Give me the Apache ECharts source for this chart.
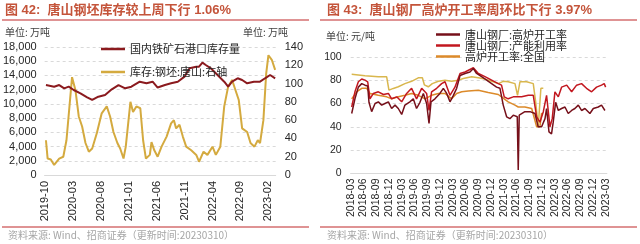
<!DOCTYPE html>
<html><head><meta charset="utf-8">
<script src="https://cdn.jsdelivr.net/npm/echarts@6/dist/echarts.min.js"></script>
<style>html,body{margin:0;padding:0;background:#fff}#c{width:640px;height:244px}</style>
</head><body><div id="c"></div>
<script>
// ---------- Left chart (图42) ----------
const oreDates = ['2019-10-08','2019-11-22','2019-12-19','2020-01-16','2020-02-10','2020-03-07','2020-04-13','2020-05-19','2020-06-16','2020-07-19','2020-08-25','2020-10-01','2020-11-07','2020-12-13','2021-01-16','2021-03-01','2021-04-07','2021-05-10','2021-06-07','2021-07-16','2021-08-19','2021-09-25','2021-11-01','2021-11-28','2022-01-04','2022-01-19','2022-02-07','2022-02-25','2022-03-22','2022-04-28','2022-06-04','2022-06-25','2022-07-16','2022-08-16','2022-09-10','2022-10-07','2022-11-13','2022-12-16','2023-01-13','2023-02-10','2023-03-07'];
const oreValues = [12650,12420,12650,12190,12420,11950,11490,10930,10550,11010,11250,12050,12650,12190,12420,13120,12890,13120,12300,12650,12890,13120,13830,15000,15230,15230,15800,15470,15000,14060,13120,12420,13120,13600,13360,12890,13120,13120,13600,14060,13600];
const billetDates = ['2019-10-08','2019-10-17','2019-11-04','2019-11-22','2019-12-19','2020-01-11','2020-01-28','2020-02-28','2020-03-16','2020-04-04','2020-04-22','2020-05-10','2020-05-28','2020-06-16','2020-07-11','2020-08-07','2020-09-04','2020-09-22','2020-10-10','2020-11-01','2020-11-16','2020-12-04','2020-12-16','2021-01-11','2021-01-25','2021-02-13','2021-03-04','2021-03-19','2021-04-04','2021-04-25','2021-05-04','2021-05-19','2021-06-07','2021-06-28','2021-07-25','2021-08-19','2021-09-04','2021-09-16','2021-10-04','2021-10-22','2021-11-10','2021-12-07','2022-01-04','2022-01-19','2022-02-13','2022-03-04','2022-04-01','2022-04-19','2022-05-13','2022-06-04','2022-06-25','2022-07-16','2022-08-04','2022-08-22','2022-09-10','2022-10-07','2022-10-25','2022-11-16','2022-12-04','2022-12-16','2023-01-04','2023-01-19','2023-02-01','2023-02-19','2023-03-07'];
const billetValues = [38,18,17,11,18,20,38,107,93,64,53,35,25.5,29,46,67.5,75,64,47,35,29,18,31,80,69,75,73,38,18,22,36,27,20,31,42,56.5,60,51,55,42,31,27,22,14.5,25.5,22,31,22,31,75,96.6,104,93,82,51,47,35,31,38,35,60,111,131,126,115];
const leftBase = '2019-10';
const leftTickStep = 5; // months between labels

// ---------- Right chart (图43) ----------
const tsBfDates = ['2018-03-08','2018-04-01','2018-04-25','2018-05-19','2018-06-12','2018-07-01','2018-07-10','2018-07-29','2018-08-23','2018-09-16','2018-10-10','2018-11-03','2018-11-27','2018-12-20','2019-01-14','2019-02-07','2019-03-01','2019-03-24','2019-04-29','2019-05-23','2019-06-16','2019-07-10','2019-08-04','2019-08-27','2019-09-14','2019-09-28','2019-10-26','2019-12-01','2019-12-25','2020-01-19','2020-02-12','2020-03-06','2020-03-29','2020-04-23','2020-05-28','2020-07-03','2020-07-27','2020-08-20','2020-09-25','2020-11-01','2020-12-06','2021-01-11','2021-02-05','2021-02-28','2021-03-22','2021-04-15','2021-05-09','2021-06-07','2021-06-14','2021-06-21','2021-08-01','2021-09-07','2021-10-12','2021-11-05','2021-11-29','2021-12-23','2022-01-04','2022-01-21','2022-02-09','2022-02-21','2022-03-08','2022-03-27','2022-04-20','2022-05-14','2022-06-07','2022-07-01','2022-07-24','2022-08-18','2022-09-11','2022-10-05','2022-11-10','2022-12-04','2023-01-09','2023-02-02','2023-02-26'];
const tsBfValues = [51.4,64,74,77,75.7,75,61,53,60,61.4,58.6,60,61.4,55.7,58.6,55.7,50.6,58.6,61.4,64,55.7,61,68.6,60,43,61.4,64,68.6,73,68.6,61.4,67,73,84,85.7,87,90,85.7,83,80,77,74,73,58.6,48.6,47,50,48.6,3,50,53,53,51.4,40,40,47,55.7,35.7,34,44,61,54,55.7,57,51.4,54,55.7,58.6,54,55.7,51.4,55.7,57,58.6,54];
const tsCapDates = ['2018-03-08','2018-04-01','2018-04-25','2018-05-19','2018-06-12','2018-07-01','2018-07-17','2018-08-11','2018-09-16','2018-10-22','2018-11-27','2018-12-20','2019-01-26','2019-03-01','2019-04-06','2019-05-11','2019-06-16','2019-07-22','2019-08-27','2019-09-14','2019-10-02','2019-11-08','2019-12-13','2020-01-07','2020-02-12','2020-03-17','2020-04-23','2020-05-28','2020-07-27','2020-09-02','2020-10-19','2020-12-06','2021-01-23','2021-02-16','2021-03-05','2021-04-03','2021-05-09','2021-06-07','2021-07-08','2021-08-25','2021-09-30','2021-10-24','2021-11-17','2021-12-11','2022-01-04','2022-01-28','2022-02-14','2022-03-03','2022-03-27','2022-04-20','2022-05-26','2022-07-01','2022-08-06','2022-09-11','2022-10-16','2022-11-22','2022-12-27','2023-02-02','2023-02-21','2023-03-01'];
const tsCapValues = [57,70,78.6,81,80,78.6,64,68.6,70,67.7,68.6,64,65.7,61.4,68.6,73,64,73,68.6,54,70,73,77,78.6,67,74,85.7,87,90.6,85.7,83,80,77,75.7,65.7,64,65.7,65.7,65.7,67,67,48.6,44,53,67,40,47,70,65.7,74,75.7,70,75.7,77,73,70,74,75.7,77,74];
const goldDates = ['2018-03-08','2018-06-12','2018-09-16','2018-11-15','2018-12-01','2019-01-02','2019-02-07','2019-03-24','2019-05-11','2019-06-28','2019-07-27','2019-08-11','2019-09-09','2019-10-07','2019-11-20','2020-01-07','2020-02-24','2020-04-11','2020-05-16','2020-07-15','2020-09-02','2020-10-19','2020-12-06','2021-01-23','2021-02-28','2021-04-03','2021-05-21','2021-06-09','2021-06-26','2021-08-13','2021-09-30','2021-10-17','2021-11-05','2021-11-24','2021-12-11'];
const goldValues = [85,83.7,82.9,82.9,71.4,72.9,74.3,77,79,82,82,76,74.3,77,79,80,79,80,81.4,82.9,82,80.9,79,77,79,78.6,77,67,78.6,78.6,77,61.4,40,73,73];
const natDates = ['2018-03-08','2018-04-13','2018-05-19','2018-06-24','2018-07-17','2018-09-16','2018-11-15','2018-12-20','2019-02-07','2019-03-24','2019-05-11','2019-06-28','2019-08-16','2019-10-02','2019-11-20','2020-01-07','2020-02-24','2020-03-29','2020-05-05','2020-06-21','2020-09-02','2020-11-12','2021-01-23','2021-02-16','2021-04-03','2021-05-21','2021-06-14','2021-08-01','2021-09-19','2021-10-24','2021-11-17','2021-11-29'];
const natValues = [64,70,73,73,68.6,67,65.7,64,65.7,67,68.6,67,64,67,68.6,68.6,64,68.6,70,70.6,71.4,69.4,67.7,65.7,61.4,58.6,57,57,55.7,40,40,52];
const rightBase = '2018-03';
const rightTickStep = 3;

function monthIdx(d, base){
  const p = d.split('-').map(Number), b = base.split('-').map(Number);
  return (p[0]-b[0])*12 + (p[1]-b[1]) + ((p[2]||1)-1)/30;
}
function idxLabel(v, base, step){
  if (Math.abs(v/step - Math.round(v/step)) > 1e-6) return '';
  const b = base.split('-').map(Number);
  const t = b[0]*12 + (b[1]-1) + Math.round(v);
  const y = Math.floor(t/12), m = t%12 + 1;
  return y + '-' + (m<10?'0':'') + m;
}
const pair = (ds, vs, base) => ds.map((d,i)=>[monthIdx(d, base), vs[i]]);

const CJK = 'Noto Sans CJK SC';
const NUM = 'Liberation Sans, Noto Sans CJK SC';
const gridLine = {show:true, lineStyle:{color:'#d9d9d9', type:[3,3], width:1}};
const axisLab = {color:'#262626', fontSize:11, fontFamily:NUM};
const titleRed = '#c4543a';
const ruleRed = '#c0282b';

const chart = echarts.init(document.getElementById('c'), null, {renderer:'canvas'});
chart.setOption({
  animation:false,
  backgroundColor:'#fff',
  grid:[
    {left:41.7, width:234, top:47, height:128},
    {left:350.7, width:256.2, top:56.8, height:116.7}
  ],
  xAxis:[
    {type:'value', gridIndex:0, min:0, max:monthIdx('2023-03-10', leftBase), interval:leftTickStep,
     axisLine:{show:true, lineStyle:{color:'#d9d9d9'}}, axisTick:{show:false}, splitLine:{show:false},
     axisLabel:{...axisLab, rotate:90, margin:6, showMaxLabel:false, formatter:v=>idxLabel(v,leftBase,leftTickStep)}},
    {type:'value', gridIndex:1, min:0, max:monthIdx('2023-03-10', rightBase), interval:rightTickStep,
     axisLine:{show:true, lineStyle:{color:'#d9d9d9'}}, axisTick:{show:false}, splitLine:{show:false},
     axisLabel:{...axisLab, fontSize:10.5, rotate:90, margin:5, showMaxLabel:false, formatter:v=>idxLabel(v,rightBase,rightTickStep)}}
  ],
  yAxis:[
    {type:'value', gridIndex:0, min:0, max:18000, interval:2000, axisLine:{show:false}, axisTick:{show:false},
     splitLine:gridLine, axisLabel:{...axisLab, margin:8}},
    {type:'value', gridIndex:0, min:0, max:140, interval:20, position:'right', axisLine:{show:false}, axisTick:{show:false},
     splitLine:{show:false}, axisLabel:{...axisLab, margin:9}},
    {type:'value', gridIndex:1, min:0, max:100, interval:20, axisLine:{show:false}, axisTick:{show:false},
     splitLine:gridLine, axisLabel:{...axisLab, fontSize:10.5, margin:9}}
  ],
  legend:[
    {orient:'vertical', left:96, top:38, icon:'rect', itemWidth:24, itemHeight:2.5, itemGap:11,
     data:['国内铁矿石港口库存量','库存:钢坯:唐山:右轴'],
     textStyle:{fontFamily:CJK, fontSize:11, color:'#262626', lineHeight:12}},
    {orient:'vertical', left:431, top:24, icon:'rect', itemWidth:24, itemHeight:2.5, itemGap:0,
     data:['唐山钢厂:高炉开工率','唐山钢厂:产能利用率','高炉开工率:全国'],
     textStyle:{fontFamily:CJK, fontSize:11, color:'#262626', lineHeight:11}}
  ],
  series:[
    {name:'国内铁矿石港口库存量', type:'line', xAxisIndex:0, yAxisIndex:0, symbol:'none',
     lineStyle:{color:'#8b1a1e', width:2}, itemStyle:{color:'#8b1a1e'}, data:pair(oreDates, oreValues, leftBase), z:3},
    {name:'库存:钢坯:唐山:右轴', type:'line', xAxisIndex:0, yAxisIndex:1, symbol:'none',
     lineStyle:{color:'#d4aa3f', width:2}, itemStyle:{color:'#d4aa3f'}, data:pair(billetDates, billetValues, leftBase), z:2},
    {name:'高炉开工率:唐山样本', type:'line', xAxisIndex:1, yAxisIndex:2, symbol:'none',
     lineStyle:{color:'#d9b74e', width:1.5}, itemStyle:{color:'#d9b74e'}, data:pair(goldDates, goldValues, rightBase), z:1},
    {name:'高炉开工率:全国', type:'line', xAxisIndex:1, yAxisIndex:2, symbol:'none',
     lineStyle:{color:'#dc8a2a', width:1.5}, itemStyle:{color:'#dc8a2a'}, data:pair(natDates, natValues, rightBase), z:2},
    {name:'唐山钢厂:产能利用率', type:'line', xAxisIndex:1, yAxisIndex:2, symbol:'none',
     lineStyle:{color:'#c2171f', width:1.5}, itemStyle:{color:'#c2171f'}, data:pair(tsCapDates, tsCapValues, rightBase), z:3},
    {name:'唐山钢厂:高炉开工率', type:'line', xAxisIndex:1, yAxisIndex:2, symbol:'none',
     lineStyle:{color:'#76101a', width:1.5}, itemStyle:{color:'#76101a'}, data:pair(tsBfDates, tsBfValues, rightBase), z:4}
  ],
  graphic:[
    {type:'text', left:5, top:4, style:{text:'图 42:  唐山钢坯库存较上周下行 1.06%', fill:titleRed, font:'bold 13px "Liberation Sans", "Noto Sans CJK SC"'}},
    {type:'text', left:327, top:4, style:{text:'图 43:  唐山钢厂高炉开工率周环比下行 3.97%', fill:titleRed, font:'bold 13px "Liberation Sans", "Noto Sans CJK SC"'}},
    {type:'line', shape:{x1:2, y1:20, x2:309, y2:20}, style:{stroke:ruleRed, lineWidth:1.2}},
    {type:'line', shape:{x1:320, y1:20, x2:637, y2:20}, style:{stroke:ruleRed, lineWidth:1.2}},
    {type:'text', left:5, top:27, style:{text:'单位: 万吨', fill:'#404040', font:'10px "Noto Sans CJK SC"'}},
    {type:'text', left:243, top:27, style:{text:'单位: 万吨', fill:'#404040', font:'10px "Noto Sans CJK SC"'}},
    {type:'text', left:326, top:31, style:{text:'单位: 元/吨', fill:'#404040', font:'10px "Noto Sans CJK SC"'}},
    {type:'line', shape:{x1:2, y1:227, x2:309, y2:227}, style:{stroke:ruleRed, lineWidth:1.2}},
    {type:'line', shape:{x1:320, y1:227, x2:637, y2:227}, style:{stroke:ruleRed, lineWidth:1.2}},
    {type:'text', left:8, top:230, style:{text:'资料来源: Wind、招商证券（更新时间:20230310）', fill:'#a6a6a6', font:'10px "Noto Sans CJK SC"'}},
    {type:'text', left:327, top:230, style:{text:'资料来源: Wind、招商证券（更新时间:20230310）', fill:'#a6a6a6', font:'10px "Noto Sans CJK SC"'}}
  ]
});
</script></body></html>
